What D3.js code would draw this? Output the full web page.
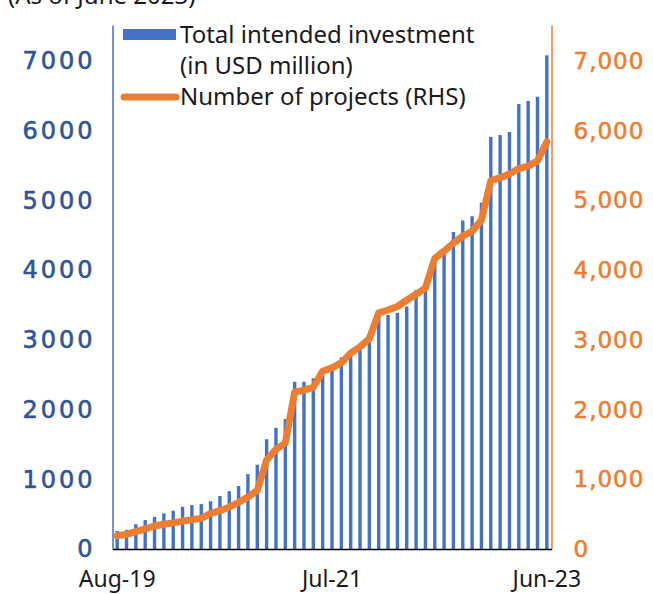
<!DOCTYPE html>
<html>
<head>
<meta charset="utf-8">
<script src="https://cdn.jsdelivr.net/npm/d3@7"></script>
<style>
  body { margin: 0; background: #fff; }
  svg { display: block; }
  .legend text, .title { font-family: "Noto Sans", sans-serif; font-size: 24px; fill: #1a1a1a; }
  .x-axis text { font-family: "Noto Sans", sans-serif; font-size: 23px; fill: #1a1a1a; }
  .y-left text { font-family: "DejaVu Sans", sans-serif; font-size: 24px; letter-spacing: 3px; stroke-width: 0.6px; }
  .y-right text { font-family: "DejaVu Sans", sans-serif; font-size: 23px; letter-spacing: 1px; stroke-width: 0.6px; }
</style>
</head>
<body>
<div class="chart"></div>
<script>
var svgWidth = 653;
var svgHeight = 594;

var margin = {
  top: 25,
  right: 101.5,
  bottom: 45,
  left: 112.5
};

var width = svgWidth - margin.left - margin.right;
var height = svgHeight - margin.top - margin.bottom;

// monthly categories
var months = [
  "Aug-19", "Sep-19", "Oct-19", "Nov-19", "Dec-19",
  "Jan-20", "Feb-20", "Mar-20", "Apr-20", "May-20", "Jun-20",
  "Jul-20", "Aug-20", "Sep-20", "Oct-20", "Nov-20", "Dec-20",
  "Jan-21", "Feb-21", "Mar-21", "Apr-21", "May-21", "Jun-21",
  "Jul-21", "Aug-21", "Sep-21", "Oct-21", "Nov-21", "Dec-21",
  "Jan-22", "Feb-22", "Mar-22", "Apr-22", "May-22", "Jun-22",
  "Jul-22", "Aug-22", "Sep-22", "Oct-22", "Nov-22", "Dec-22",
  "Jan-23", "Feb-23", "Mar-23", "Apr-23", "May-23", "Jun-23"
];

// total intended investment (USD million), left axis
var investment = [
  258, 275, 355, 415, 460, 512, 550, 605, 630, 645, 685,
  760, 830, 905, 1075, 1210, 1575, 1740, 1865, 2400, 2400, 2450,
  2500, 2570, 2750, 2770, 2870, 2980, 3380, 3360, 3390, 3480,
  3715, 3720, 4150, 4310, 4550, 4715, 4775, 4970, 5915, 5940,
  5985, 6385, 6430, 6490, 7085
];

// number of projects, right axis
var projects = [
  190, 210, 250, 290, 330, 355, 375, 400, 420, 440, 510,
  550, 600, 670, 745, 840, 1277, 1430, 1520, 2250, 2280, 2320,
  2550, 2600, 2670, 2810, 2900, 3020, 3390, 3430, 3480, 3570,
  3655, 3745, 4170, 4275, 4390, 4490, 4560, 4720, 5285, 5330,
  5380, 5460, 5495, 5570, 5845
];

var xTicks = ["Aug-19", "Jul-21", "Jun-23"];
var leftTicks = [0, 1000, 2000, 3000, 4000, 5000, 6000, 7000];
var rightTicks = [0, 1000, 2000, 3000, 4000, 5000, 6000, 7000];

var svg = d3
  .select(".chart")
  .append("svg")
  .attr("width", svgWidth)
  .attr("height", svgHeight);

// title, mostly cropped at the top of the picture
svg.append("text")
  .attr("class", "title")
  .attr("x", 8)
  .attr("y", 4)
  .text("(As of June 2023)");

var chartGroup = svg.append("g")
  .attr("transform", `translate(${margin.left}, ${margin.top})`);

var xScale = d3.scaleBand()
  .domain(months)
  .range([0, width])
  .padding(0);

var yLeft = d3.scaleLinear()
  .domain([0, 7520])
  .range([height, 0]);

var yRight = d3.scaleLinear()
  .domain([0, 7520])
  .range([height, 0]);

var barWidth = 3.4;

// bars
chartGroup.selectAll(".bar")
  .data(investment)
  .enter()
  .append("rect")
  .attr("class", "bar")
  .attr("x", (d, i) => xScale(months[i]) + (xScale.bandwidth() - barWidth) / 2)
  .attr("y", d => yLeft(d))
  .attr("width", barWidth)
  .attr("height", d => height - yLeft(d))
  .attr("fill", "#4472c4");

// left axis
var leftAxis = chartGroup.append("g")
  .attr("class", "y-left")
  .call(d3.axisLeft(yLeft).tickValues(leftTicks).tickSize(0).tickPadding(17)
    .tickFormat(d3.format("d")));
leftAxis.select(".domain").attr("stroke", "#6f93d6").attr("stroke-width", 2);
leftAxis.selectAll("text").attr("fill", "#2f5597").attr("stroke", "#2f5597");

// right axis
var rightAxis = chartGroup.append("g")
  .attr("class", "y-right")
  .attr("transform", `translate(${width}, 0)`)
  .call(d3.axisRight(yRight).tickValues(rightTicks).tickSize(0).tickPadding(22)
    .tickFormat(d3.format(",")));
rightAxis.select(".domain").attr("stroke", "#ed7d31").attr("stroke-width", 1.5);
rightAxis.selectAll("text").attr("fill", "#ed7d31").attr("stroke", "#ed7d31");

// x axis
var xAxis = chartGroup.append("g")
  .attr("class", "x-axis")
  .attr("transform", `translate(0, ${height})`)
  .call(d3.axisBottom(xScale).tickValues(xTicks).tickSize(0).tickPadding(22));
xAxis.select(".domain").attr("stroke", "#000").attr("stroke-width", 1.5);

// projects line
var line = d3.line()
  .x((d, i) => xScale(months[i]) + xScale.bandwidth() / 2)
  .y(d => yRight(d));

chartGroup.append("path")
  .datum(projects)
  .attr("d", line)
  .attr("fill", "none")
  .attr("stroke", "#ed7d31")
  .attr("stroke-width", 7)
  .attr("stroke-linejoin", "round")
  .attr("stroke-linecap", "round");

// legend
var legend = svg.append("g").attr("class", "legend");

legend.append("rect")
  .attr("x", 123)
  .attr("y", 29)
  .attr("width", 53)
  .attr("height", 11)
  .attr("fill", "#4472c4");

legend.append("text").attr("x", 180).attr("y", 43).text("Total intended investment");
legend.append("text").attr("x", 180).attr("y", 74).text("(in USD million)");

legend.append("line")
  .attr("x1", 124)
  .attr("x2", 176)
  .attr("y1", 97)
  .attr("y2", 97)
  .attr("stroke", "#ed7d31")
  .attr("stroke-width", 7)
  .attr("stroke-linecap", "round");

legend.append("text").attr("x", 180).attr("y", 105).text("Number of projects (RHS)");
</script>
</body>
</html>
